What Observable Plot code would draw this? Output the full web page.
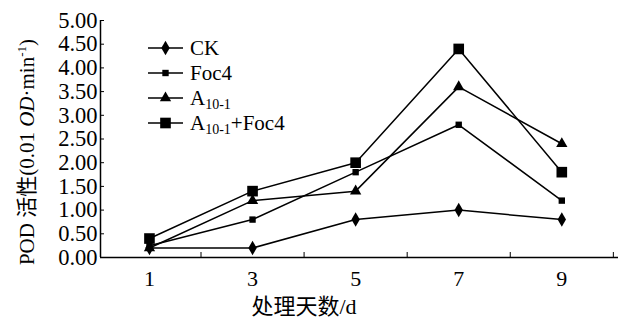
<!DOCTYPE html>
<html>
<head>
<meta charset="utf-8">
<script src="https://cdn.jsdelivr.net/npm/d3@7"></script>
<script src="https://cdn.jsdelivr.net/npm/@observablehq/plot@0.6"></script>
<style>
  html, body { margin: 0; padding: 0; background: #fff; }
  #chart svg { display: block; }
</style>
</head>
<body>
<div id="chart"></div>
<script>
// Days after treatment
const days = [1, 3, 5, 7, 9];

// POD activity for each treatment (0.01 OD·min⁻¹)
const ck = [0.2, 0.2, 0.8, 1.0, 0.8];
const foc4 = [0.25, 0.8, 1.8, 2.8, 1.2];
const a101 = [0.2, 1.2, 1.4, 3.6, 2.4];
const a101Foc4 = [0.4, 1.4, 2.0, 4.4, 1.8];

const seriesNames = ["CK", "Foc4", "A10-1", "A10-1+Foc4"];
const seriesValues = [ck, foc4, a101, a101Foc4];

const yTicks = [0, 0.5, 1, 1.5, 2, 2.5, 3, 3.5, 4, 4.5, 5];
const xLabelTicks = [1, 3, 5, 7, 9];
const xMinorTicks = [2, 4, 6, 8, 10];

// marker look per series
const markerStyle = {
  "CK": {symbol: "diamond", r: 4.4},
  "Foc4": {symbol: "square", r: 3.6},
  "A10-1": {symbol: "triangle", r: 4.2},
  "A10-1+Foc4": {symbol: "square", r: 6}
};

const rows = seriesNames.flatMap((name, i) =>
  days.map((d, j) => ({series: name, day: d, value: seriesValues[i][j]}))
);

const font = "'Liberation Serif', 'Noto Sans CJK SC', serif";

const marks = [
  Plot.ruleY([0], {stroke: "#000", strokeWidth: 1.5}),
  Plot.ruleX([0.05], {stroke: "#000", strokeWidth: 1.5}),
  Plot.axisY({ticks: yTicks, tickFormat: d3.format(".2f"), tickSize: -4, tickPadding: 7, label: null, fontSize: 22.5}),
  Plot.axisX({ticks: xMinorTicks, tickSize: -5, tickFormat: () => "", label: null}),
  Plot.axisX({ticks: xLabelTicks, tickSize: 0, tickPadding: 13, label: null, fontSize: 22}),
  Plot.line(rows, {x: "day", y: "value", z: "series", stroke: "#000", strokeWidth: 1.5})
];
for (const name of seriesNames) {
  const s = markerStyle[name];
  marks.push(Plot.dot(rows.filter(r => r.series === name), {
    x: "day", y: "value", symbol: () => s.symbol, r: s.r, fill: "#000", stroke: "none"
  }));
}

const chart = Plot.plot({
  width: 618,
  height: 320,
  marginTop: 20,
  marginBottom: 63,
  marginLeft: 100,
  marginRight: 0,
  style: {fontFamily: font, color: "#000", background: "#fff"},
  x: {domain: [0.05, 10.1]},
  y: {domain: [0, 5]},
  symbol: {type: "identity"},
  marks
});

const svg = d3.select(chart);

// x axis title
svg.append("text")
  .attr("x", 304).attr("y", 314)
  .attr("text-anchor", "middle")
  .attr("font-family", font).attr("font-size", 22)
  .attr("fill", "#000")
  .text("处理天数/d");

// y axis title with italic OD and superscript
const yTitle = svg.append("text")
  .attr("transform", "translate(34,152) rotate(-90)")
  .attr("text-anchor", "middle")
  .attr("font-family", font).attr("font-size", 21)
  .attr("fill", "#000");
yTitle.append("tspan").text("POD 活性(0.01 ");
yTitle.append("tspan").attr("font-style", "italic").text("OD");
yTitle.append("tspan").text("·min");
yTitle.append("tspan").attr("font-size", 13).attr("dy", -8).text("-1");
yTitle.append("tspan").attr("dy", 8).text(")");

// legend
const legend = svg.append("g").attr("transform", "translate(148,48)");
seriesNames.forEach((name, i) => {
  const s = markerStyle[name];
  const g = legend.append("g").attr("transform", `translate(0,${i * 25})`);
  g.append("line").attr("x1", 0).attr("x2", 35).attr("y1", 0).attr("y2", 0)
    .attr("stroke", "#000").attr("stroke-width", 1.5);
  const sym = s.symbol === "diamond" ? d3.symbolDiamond : s.symbol === "triangle" ? d3.symbolTriangle : d3.symbolSquare;
  g.append("path").attr("transform", "translate(17.5,0)")
    .attr("d", d3.symbol(sym, Math.PI * s.r * s.r)())
    .attr("fill", "#000");
  const t = g.append("text").attr("x", 42).attr("y", 7)
    .attr("text-anchor", "start")
    .attr("font-family", font).attr("font-size", 21).attr("fill", "#000");
  if (name.startsWith("A10-1")) {
    t.append("tspan").text("A");
    t.append("tspan").attr("font-size", 14).attr("dy", 4).text("10-1");
    if (name.length > 5) t.append("tspan").attr("dy", -4).text("+Foc4");
  } else {
    t.text(name);
  }
});

document.getElementById("chart").appendChild(chart);
</script>
</body>
</html>
